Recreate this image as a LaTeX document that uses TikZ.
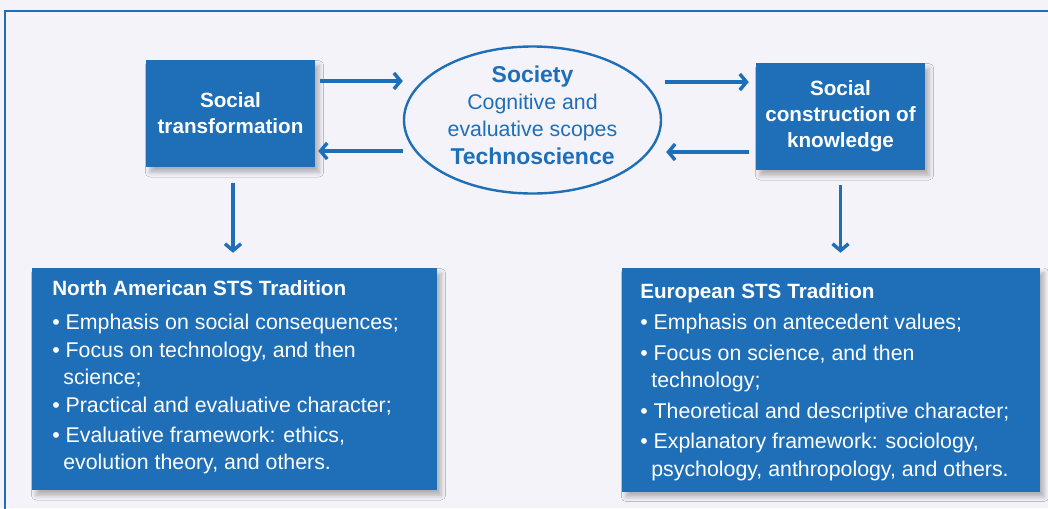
\documentclass[tikz,border=0pt]{standalone}
\usepackage{fontspec}
\setmainfont{Liberation Sans}
\usetikzlibrary{shapes.geometric,arrows.meta,shadows.blur}
\definecolor{stsblue}{HTML}{1F6FB8}
\definecolor{stsbg}{HTML}{F3F3F9}
\tikzset{
  bluebox/.style={fill=stsblue, inner sep=0pt,
    blur shadow={shadow xshift=3pt, shadow yshift=-4pt, shadow blur radius=3.5pt, shadow opacity=28}},
  boxtitle/.style={text=white, align=center, font=\fontsize{15.5}{19.5}\selectfont\bfseries},
  listtext/.style={text=white, align=left, inner sep=0pt, anchor=north west},
  arr/.style={draw=stsblue, line width=2.6pt, -{Straight Barb[length=5pt,width=12pt]}},
}
\newcommand{\itm}{\textbullet\ }
\newcommand{\cnt}{\hspace*{8.3pt}}
\newcommand{\lhead}[1]{{\fontsize{15.5}{19}\selectfont\bfseries #1}}
\begin{document}
\begin{tikzpicture}[x=0.75pt,y=-0.75pt]
  \useasboundingbox (0,0) rectangle (1048,508);
  \fill[stsbg] (0,0) rectangle (1048,508);
  \draw[stsblue, line width=2.2pt] (5,512) |- (1052,11);

  % top row
  \node[bluebox, minimum width=126.75pt, minimum height=80.25pt] (st) at (230.5,113.5) {};
  \node[boxtitle] (stt) at (st.center) {Social\\transformation};
  \node[bluebox, minimum width=126.75pt, minimum height=80.25pt] (sck) at (840.5,116.5) {};
  \node[boxtitle] (sckt) at (sck.center) {Social\\construction of\\knowledge};
  \node[draw=stsblue, line width=1.8pt, ellipse, minimum width=192.75pt, minimum height=110.25pt, inner sep=0pt] (soc) at (532.5,120) {};
  \node[text=stsblue, align=center, font=\fontsize{16}{20.5}\selectfont] (soct) at (532.5,115)
    {{\fontsize{17.2}{20.5}\selectfont\bfseries Society}\\Cognitive and\\evaluative scopes\\{\fontsize{17.2}{20.5}\selectfont\bfseries Technoscience}};

  % bottom row
  \node[bluebox, minimum width=303.75pt, minimum height=166.5pt] (na) at (234.5,379) {};
  \node[listtext, font=\fontsize{16}{20.5}\selectfont] (nat) at (52,280) {%
    \lhead{North American STS Tradition}\\[5pt]
    \itm Emphasis on social consequences;\\[0.5pt]
    \itm Focus on technology, and then\\
    \cnt science;\\[0.5pt]
    \itm Practical and evaluative character;\\[2pt]
    \itm Evaluative framework: ethics,\\
    \cnt evolution theory, and others.};
  \node[bluebox, minimum width=313.5pt, minimum height=168pt] (eu) at (831,379.5) {};
  \node[listtext, font=\fontsize{16}{20.5}\selectfont] (eut) at (640,283) {%
    \lhead{European STS Tradition}\\[3pt]
    \itm Emphasis on antecedent values;\\[2.5pt]
    \itm Focus on science, and then\\
    \cnt technology;\\[2.5pt]
    \itm Theoretical and descriptive character;\\[2.5pt]
    \itm Explanatory framework: sociology,\\
    \cnt psychology, anthropology, and others.};

  % connectors
  \draw[arr] ([shift={(5,-32.5)}]st.east) -- ([shift={(0,-39)}]soc.west);
  \draw[arr] ([shift={(0,31)}]soc.west) -- ([shift={(3,37.5)}]st.east);
  \draw[arr] ([shift={(3,-38)}]soc.east) -- ([shift={(-7,-34.5)}]sck.west);
  \draw[arr] ([shift={(-7,35.5)}]sck.west) -- ([shift={(4,32)}]soc.east);
  \draw[arr] ([shift={(2.5,16)}]st.south) -- ([shift={(-1.5,-15)}]na.north);
  \draw[arr] ([shift={(0,15)}]sck.south) -- ([shift={(9.5,-14.5)}]eu.north);
\end{tikzpicture}
\end{document}
